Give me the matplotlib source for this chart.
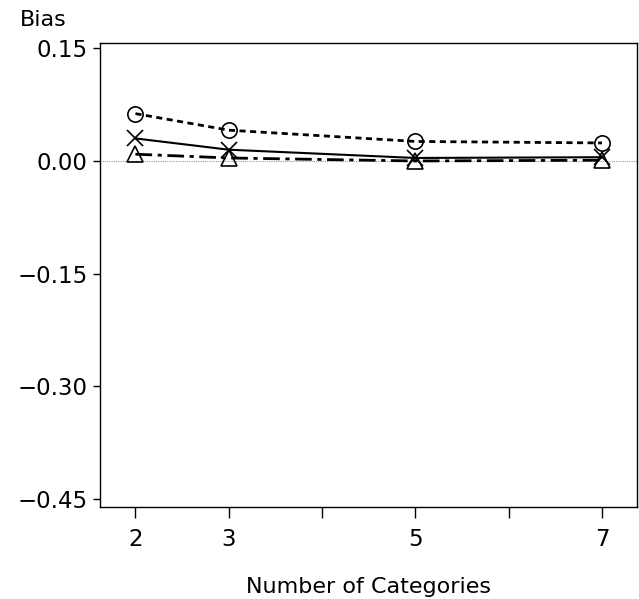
import matplotlib
matplotlib.use("Agg")
import matplotlib.pyplot as plt

categories = [2, 3, 5, 7]
bias_circle = [0.063, 0.041, 0.026, 0.024]
bias_x = [0.030, 0.015, 0.004, 0.005]
bias_triangle = [0.009, 0.004, 0.000, 0.001]
yticks = [0.15, 0.00, -0.15, -0.30, -0.45]
ytick_labels = ["0.15", "0.00", "\u22120.15", "\u22120.30", "\u22120.45"]
xticks = [2, 3, 4, 5, 6, 7]
xtick_labels = ["2", "3", "", "5", "", "7"]

plt.rcParams['font.family'] = ['DejaVu Sans']
fig = plt.figure(figsize=(6.39, 5.99), dpi=100)
ax = fig.add_axes([100/639, 1-507/599, 537/639, 464/599])

ax.axhline(0, color='#999999', lw=0.8, ls=(0, (1, 1)), zorder=1)
ax.plot(categories, bias_circle, color='black', lw=2, ls=(0, (2.2, 1.6)),
        marker='o', ms=11, mfc='none', mec='black', mew=1.2, zorder=3)
ax.plot(categories, bias_x, color='black', lw=1.5, ls='-',
        marker='x', ms=11, mec='black', mew=1.2, zorder=3)
ax.plot(categories, bias_triangle, color='black', lw=2, ls=(0, (6, 2, 1.5, 2)),
        marker='^', ms=11.5, mfc='none', mec='black', mew=1.2, zorder=3)

ax.set_xlim(1.62, 7.375)
ax.set_ylim(-0.4605, 0.157)
ax.set_yticks(yticks)
ax.set_yticklabels(ytick_labels)
ax.set_xticks(xticks)
ax.set_xticklabels(xtick_labels)
ax.tick_params(axis='y', direction='out', length=5, width=1, pad=4, labelsize=16.5)
ax.tick_params(axis='x', direction='out', length=8, width=1, pad=7, labelsize=16.5)
for s in ax.spines.values():
    s.set_linewidth(1)

fig.text(20/639, 1-20/599, "Bias", fontsize=16, ha='left', va='center')
ax.set_xlabel("Number of Categories", fontsize=16, labelpad=19)

fig.savefig("out.png", dpi=100)
